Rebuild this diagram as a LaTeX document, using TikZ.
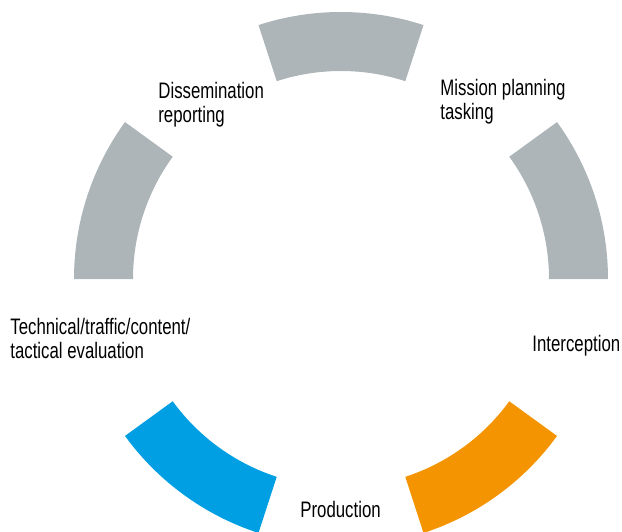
\documentclass[tikz,border=0pt]{standalone}
\usepackage{fontspec}
\setmainfont[FakeStretch=0.75]{Liberation Sans}
\usepackage{color}

\definecolor{ringgray}{RGB}{173,181,185}
\definecolor{ringblue}{RGB}{0,159,227}
\definecolor{ringorange}{RGB}{243,148,0}

\begin{document}
\begin{tikzpicture}[%
      x=0.5pt, y=0.5pt,
      phasetext/.style={anchor=north west, inner sep=0pt, align=left,
        font=\fontsize{11.2}{11.7}\selectfont},
      ]
      \useasboundingbox (0,0) rectangle (622,-531);

      \begin{scope}[shift={(341,-279)}]
      \fill [color=ringgray] (0:208) -- (0:267) arc[start angle=0, end angle=36, radius=267]
            -- (36:208) arc[start angle=36, end angle=0, radius=208] -- cycle;
      \fill [color=ringgray] (72:208) -- (72:267) arc[start angle=72, end angle=108, radius=267]
            -- (108:208) arc[start angle=108, end angle=72, radius=208] -- cycle;
      \fill [color=ringgray] (144:208) -- (144:267) arc[start angle=144, end angle=180, radius=267]
            -- (180:208) arc[start angle=180, end angle=144, radius=208] -- cycle;
      \fill [color=ringblue] (216:208) -- (216:267) arc[start angle=216, end angle=252, radius=267]
            -- (252:208) arc[start angle=252, end angle=216, radius=208] -- cycle;
      \fill [color=ringorange] (288:208) -- (288:267) arc[start angle=288, end angle=324, radius=267]
            -- (324:208) arc[start angle=324, end angle=288, radius=208] -- cycle;
      \end{scope}

      \node [phasetext] (dissem) at (158,-82) {Dissemination\\reporting};
      \node [phasetext] (mission) at (440,-79) {Mission planning\\tasking};
      \node [phasetext] (evaluation) at (10,-318) {Technical/traffic/content/\\tactical evaluation};
      \node [phasetext] (intercept) at (532,-335) {Interception};
      \node [phasetext] (production) at (300,-501) {Production};
\end{tikzpicture}
\end{document}
